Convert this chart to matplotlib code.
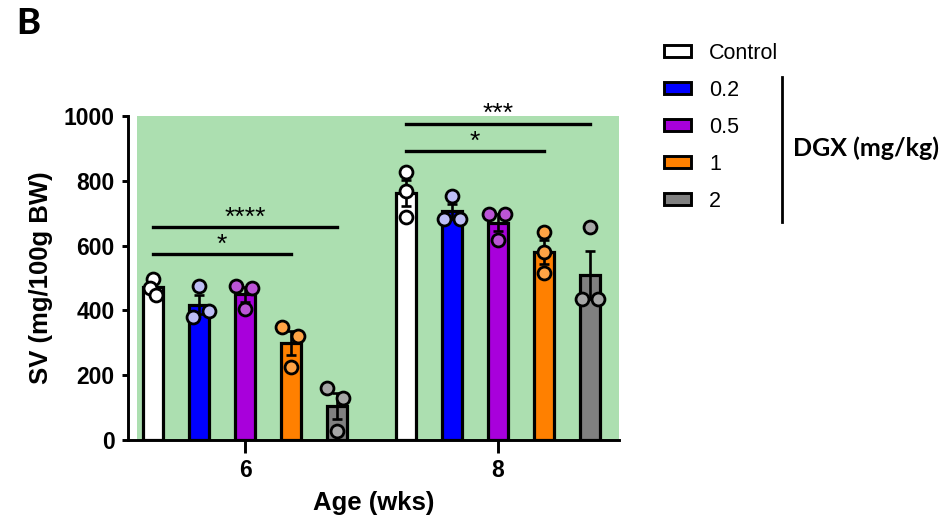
import numpy as np
import matplotlib
matplotlib.use("Agg")
import matplotlib.pyplot as plt
from matplotlib.patches import Patch
from matplotlib.lines import Line2D

plt.rcParams['font.family'] = ['Liberation Sans', 'DejaVu Sans']

# data (SV, mg/100g BW), three animals per group
ages = ['6', '8']
doses = ['Control', '0.2', '0.5', '1', '2']
sv_6wk = [[498, 470, 448], [476, 398, 379], [476, 468, 404], [348, 321, 226], [160, 131, 28]]
sv_8wk = [[828, 768, 689], [754, 681, 681], [698, 698, 617], [643, 581, 516], [658, 434, 434]]
# (age index, dose from, dose to, bar height, label)
sig = [(0, 0, 4, 657, '****'), (0, 0, 3, 574, '*'),
       (1, 0, 4, 976, '***'), (1, 0, 3, 892, '*')]

bar_colors = ['white', '#0000ff', '#a800db', '#ff8000', '#808080']
dot_colors = ['white', '#bdbdf5', '#bb55d6', '#ffa345', '#a6a6a6']
green = '#acdfb0'

# horizontal scatter of the dots, in pixels (style only)
jitter_6 = [[0, -3, 3], [0, 10, -6], [-9, 7, 0], [-9, 7, 0], [-10, 6, 0]]
jitter_8 = [[0, 0, 0], [0, -8, 8], [-9, 7, 0], [0, 0, 0], [0, -8, 8]]

PX = 253.0            # pixels per group unit
step = 46 / PX
width = 20 / PX

fig = plt.figure(figsize=(9.47, 5.29), dpi=100)
ax = fig.add_axes([128 / 947, 1 - 440 / 529, (619 - 128) / 947, (440 - 116) / 529])
ax.set_xlim((128 - 245) / PX, (619 - 245) / PX)
ax.set_ylim(0, 1000)
ax.axvspan((137 - 245) / PX, (619 - 245) / PX, color=green, zorder=0, lw=0)

for g, data in enumerate([sv_6wk, sv_8wk]):
    jit = [jitter_6, jitter_8][g]
    for i, pts in enumerate(data):
        pts = np.array(pts, dtype=float)
        x = g + (i - 2) * step
        mean = pts.mean()
        sem = pts.std(ddof=1) / np.sqrt(len(pts))
        ax.bar(x, mean, width=width, color=bar_colors[i], edgecolor='black',
               linewidth=2.3, zorder=2)
        ax.errorbar(x, mean, yerr=sem, color='black', elinewidth=1.9, capsize=3.8,
                    capthick=1.9, zorder=3)
        ax.plot(x + np.array(jit[i]) / PX, pts, 'o', ms=9.3, mfc=dot_colors[i],
                mec='black', mew=2.0, zorder=4, clip_on=False)

for g, a, b, y, lab in sig:
    x0 = g + (a - 2) * step
    x1 = g + (b - 2) * step
    ax.plot([x0, x1], [y, y], color='black', lw=2.4, zorder=5, clip_on=False)
    ax.text((x0 + x1) / 2, y + 8, lab, ha='center', va='baseline', fontsize=19, zorder=5)

for s in ['top', 'right']:
    ax.spines[s].set_visible(False)
for s in ['left', 'bottom']:
    ax.spines[s].set_linewidth(2.1)
ax.set_xticks([0, 1])
ax.set_xticklabels(ages)
ax.set_yticks(range(0, 1001, 200))
ax.tick_params(axis='y', length=4.5, width=2.1, pad=5, labelsize=16.5)
ax.tick_params(axis='x', length=9, width=2.1, pad=5, labelsize=16.5)
for t in ax.get_xticklabels() + ax.get_yticklabels():
    t.set_fontweight('bold')
ax.set_xlabel('Age (wks)', fontsize=18.5, fontweight='bold', labelpad=6)
ax.set_ylabel('SV (mg/100g BW)', fontsize=18.5, fontweight='bold', labelpad=8)

handles = [Patch(facecolor=c, edgecolor='black', linewidth=2.1) for c in bar_colors]
fig.legend(handles, doses, loc='upper left', bbox_to_anchor=(664 / 947, 1 - 43 / 529),
           frameon=False, fontsize=15.5, handlelength=1.25, handleheight=0.5,
           handletextpad=0.85, labelspacing=0.74, borderpad=0, borderaxespad=0)

fig.add_artist(Line2D([782 / 947, 782 / 947], [1 - 77 / 529, 1 - 222 / 529],
                      transform=fig.transFigure, color='black', lw=2))
fig.text(793 / 947, 1 - 148 / 529, 'DGX (mg/kg)', family=['Lato', 'DejaVu Sans'],
         fontweight='bold', fontsize=18, ha='left', va='center')
fig.text(28 / 947, 1 - 23 / 529, 'B', family=['Lato', 'DejaVu Sans'],
         fontweight='black', fontsize=26, ha='center', va='center')

fig.savefig('out.png', dpi=100)
